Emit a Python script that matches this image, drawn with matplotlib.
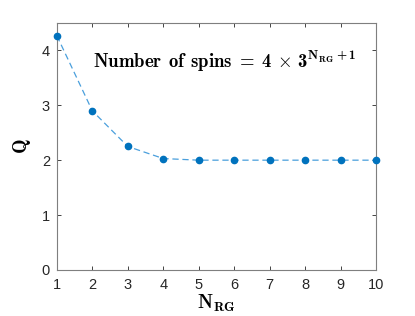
import matplotlib
matplotlib.use("Agg")
import matplotlib.pyplot as plt

plt.rcParams['mathtext.fontset'] = 'custom'
plt.rcParams['mathtext.rm'] = 'cmr10'
plt.rcParams['mathtext.bf'] = 'cmb10'
plt.rcParams['mathtext.it'] = 'cmmi10'
plt.rcParams['mathtext.fallback'] = 'cm'
plt.rcParams['font.family'] = ['Liberation Sans', 'DejaVu Sans']

n_rg = [1, 2, 3, 4, 5, 6, 7, 8, 9, 10]
q_vals = [4.27, 2.90, 2.25, 2.03, 2.00, 2.00, 2.00, 2.00, 2.00, 2.00]
x_ticks = [1, 2, 3, 4, 5, 6, 7, 8, 9, 10]
y_ticks = [0, 1, 2, 3, 4]

fig = plt.figure(figsize=(4.15, 3.16), dpi=100)
ax = fig.add_axes([0.137, 0.146, 0.769, 0.781])

ax.plot(n_rg, q_vals, '--', color='#4a9fdc', lw=0.9, dashes=(5, 3))
ax.plot(n_rg, q_vals, 'o', color='#0072BD', ms=4.5, mec='#0072BD', clip_on=False, zorder=3)

ax.set_xlim(1, 10)
ax.set_ylim(0, 4.5)
ax.set_xticks(x_ticks)
ax.set_yticks(y_ticks)
ax.tick_params(direction='in', length=3, width=0.6, colors='#262626',
               labelsize=10.5, top=True, right=True)
ax.tick_params(axis='x', pad=6)
ax.tick_params(axis='y', pad=5)
for s in ax.spines.values():
    s.set_color('#7f7f7f')
    s.set_linewidth(0.8)

ax.set_xlabel(r'$\mathbf{N_{RG}}$', fontsize=14, labelpad=0)
ax.set_ylabel(r'$\mathbf{Q}$', fontsize=14, labelpad=6)

ax.text(5.72, 3.8,
        r'$\mathbf{Number\;\,of\;\,spins}\;\mathbf{=}\;\mathbf{4}\,\times\,'
        r'\mathbf{3^{N_{RG}+1}}$',
        fontsize=13.5, ha='center', va='center')

fig.savefig('out.png', dpi=100)
